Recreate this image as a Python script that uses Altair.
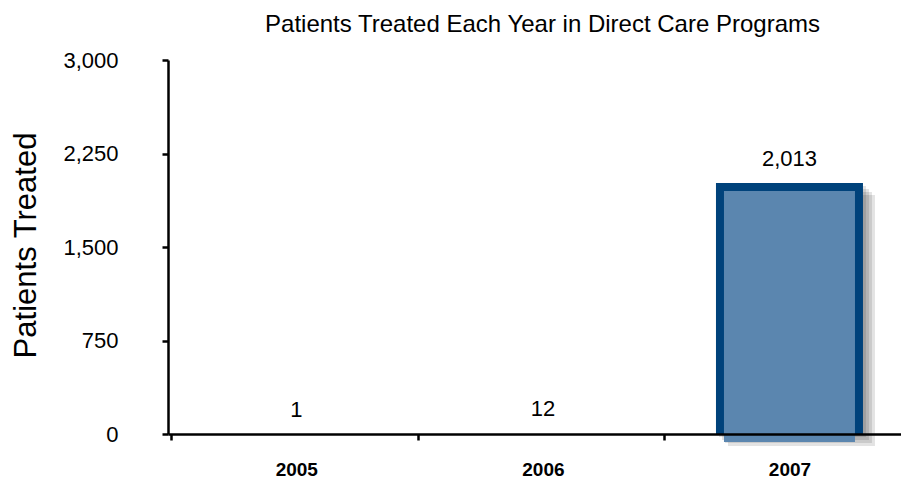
import json
import altair as alt
import pandas as pd

years = ["2005", "2006", "2007"]
patients = [1, 12, 2013]
y_ticks = [0, 750, 1500, 2250, 3000]
title_text = "Patients Treated Each Year in Direct Care Programs"
y_title = "Patients Treated"

df = pd.DataFrame({"Year": years, "Patients": patients, "Idx": list(range(len(years)))})

FONT = "Liberation Sans"
W = 733          # visible plot width (keeps the page from overflowing)
H = 374
BAND = 250       # width of one year's slot
x_max = -0.5 + W / BAND

x = alt.X(
    "Idx:Q", title=None,
    scale=alt.Scale(domain=[-0.5, x_max], nice=False, zero=False),
    axis=alt.Axis(
        values=list(range(len(years))),
        labelExpr=f"{json.dumps(years)}[datum.value]",
        labelAngle=0, labelFont=FONT, labelFontWeight="bold",
        labelFontSize=19, labelColor="black", labelPadding=20, labelBaseline="top",
        tickOffset=-BAND / 2, labelOffset=BAND / 2,
        tickSize=6, tickWidth=2.5, tickColor="black",
        domainColor="black", domainWidth=2.5, grid=False, zindex=2,
    ),
)
y = alt.Y(
    "Patients:Q", title=y_title,
    scale=alt.Scale(domain=[0, 3000], nice=False),
    axis=alt.Axis(
        values=y_ticks, format=",d", grid=False,
        labelFont=FONT, labelFontSize=22, labelColor="black", labelPadding=44,
        tickSize=6, tickWidth=2.5, tickColor="black",
        domainColor="black", domainWidth=2.5, zindex=2,
        titleFont=FONT, titleFontSize=31, titleFontWeight="normal", titleColor="black",
        titleAngle=-90, titleX=-142, titleY=H / 2 - 2, titleAlign="center", titleBaseline="middle",
    ),
)

base = alt.Chart(df).encode(x=x, y=y)
big = base.transform_filter("datum.Patients > 100")

shadows = [
    big.mark_bar(size=147, color="black", opacity=0.11, xOffset=k, yOffset=k, y2Offset=k)
    for k in (3, 6, 9, 12)
]
outer = big.mark_bar(size=147, color="#00427B")
inner = big.mark_bar(size=131, color="#5B86AF", yOffset=8, y2Offset=-8)

labels = base.mark_text(
    dy=-17, baseline="alphabetic", font=FONT, fontSize=22, color="black"
).encode(text=alt.Text("Patients:Q", format=","))

chart = alt.layer(*shadows, outer, inner, labels).properties(
    width=W, height=H,
    autosize="none",
    padding={"left": 160, "top": 52, "right": 0, "bottom": 44},
    title=alt.TitleParams(
        title_text, font=FONT, fontSize=24, fontWeight="normal", color="black",
        anchor="middle", frame="group", offset=12, dx=8,
    ),
).configure_view(stroke=None)

chart.save("out.html", embed_options={"renderer": "svg", "actions": False})
